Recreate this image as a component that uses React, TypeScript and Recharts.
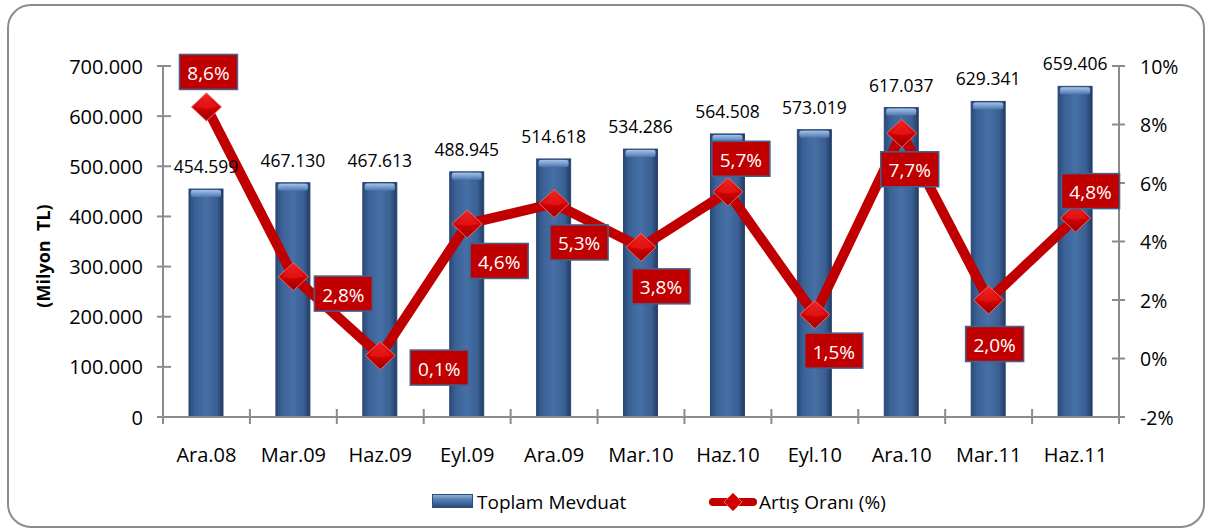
import React from 'react';
import { ComposedChart, Bar, Line, XAxis, YAxis, LabelList } from 'recharts';

const categories = ['Ara.08', 'Mar.09', 'Haz.09', 'Eyl.09', 'Ara.09', 'Mar.10', 'Haz.10', 'Eyl.10', 'Ara.10', 'Mar.11', 'Haz.11'];
const deposits = [454599, 467130, 467613, 488945, 514618, 534286, 564508, 573019, 617037, 629341, 659406];
const growth = [8.6, 2.8, 0.1, 4.6, 5.3, 3.8, 5.7, 1.5, 7.7, 2.0, 4.8];
const leftTicks = [0, 100000, 200000, 300000, 400000, 500000, 600000, 700000];
const rightTicks = [-2, 0, 2, 4, 6, 8, 10];
const seriesNames = ['Toplam Mevduat', 'Artış Oranı (%)'];

// where each percentage box sits relative to its point (dx, dy)
const labelOffsets = [[2, -35], [50, 17], [59, 12], [32, 37], [25, 39], [20, 39], [13, -33], [19, 36], [8, 36], [6, 44], [15, -27]];

const data = categories.map((name, i) => ({ name, deposit: deposits[i], growth: growth[i] }));

const W = 1212;
const H = 531;
const PLOT_LEFT = 163;
const PLOT_RIGHT = 1119;
const PLOT_TOP = 66;
const PLOT_BOTTOM = 417;
const BAND = (PLOT_RIGHT - PLOT_LEFT) / categories.length;
const AXIS = '#8c8c8c';

const thousands = (v: number) => String(v).replace(/\B(?=(\d{3})+(?!\d))/g, '.');
const pct = (v: number) => `${v.toFixed(1).replace('.', ',')}%`;

function LeftTick({ y, payload }: any) {
  return (
    <g>
      <line x1={PLOT_LEFT - 6} x2={PLOT_LEFT + 8} y1={y} y2={y} stroke={AXIS} strokeWidth={2} />
      <text x={PLOT_LEFT - 20} y={y} textAnchor="end" dominantBaseline="central" fontSize={20} fill="#000">
        {thousands(payload.value)}
      </text>
    </g>
  );
}

function RightTick({ y, payload }: any) {
  return (
    <g>
      <line x1={PLOT_RIGHT - 7} x2={PLOT_RIGHT + 6} y1={y} y2={y} stroke={AXIS} strokeWidth={2} />
      <text x={PLOT_RIGHT + 21} y={y} textAnchor="start" dominantBaseline="central" fontSize={19.5} fill="#000">
        {`${payload.value}%`}
      </text>
    </g>
  );
}

function CategoryTick({ x, payload, index }: any) {
  const left = x - BAND / 2;
  return (
    <g>
      <line x1={left} x2={left} y1={PLOT_BOTTOM - 8} y2={PLOT_BOTTOM + 7} stroke={AXIS} strokeWidth={2} />
      {index === categories.length - 1 && (
        <line x1={x + BAND / 2} x2={x + BAND / 2} y1={PLOT_BOTTOM - 8} y2={PLOT_BOTTOM + 7} stroke={AXIS} strokeWidth={2} />
      )}
      <text x={x} y={PLOT_BOTTOM + 37} textAnchor="middle" dominantBaseline="central" fontSize={20} fill="#000">
        {payload.value}
      </text>
    </g>
  );
}

function BarShape({ x, y, width, height }: any) {
  if (!height) return null;
  return (
    <g>
      <rect x={x} y={y} width={width} height={height} fill="url(#barGrad)" stroke="#2a4670" strokeWidth={1} />
      <rect x={x + 2} y={y + 1} width={width - 4} height={7} rx={2} fill="url(#capGrad)" />
    </g>
  );
}

function Diamond({ cx, cy }: any) {
  if (cx == null || cy == null) return null;
  const w = 15;
  const h = 14;
  return (
    <g>
      <polygon
        points={`${cx},${cy - h} ${cx + w},${cy} ${cx},${cy + h} ${cx - w},${cy}`}
        fill="url(#diamondGrad)"
        stroke="#e06a6a"
        strokeWidth={1}
      />
      <polygon points={`${cx},${cy - h + 3} ${cx + w - 4},${cy} ${cx},${cy + 2} ${cx - w + 4},${cy}`} fill="#ee1c1c" opacity={0.6} />
    </g>
  );
}

function PctLabel({ x, y, value, index }: any) {
  const [dx, dy] = labelOffsets[index] || [0, -30];
  const cx = x + dx;
  const cy = y + dy;
  const bw = 58;
  const bh = 35;
  return (
    <g>
      <rect x={cx - bw / 2} y={cy - bh / 2} width={bw} height={bh} fill="#c00000" stroke="#44608f" strokeWidth={1.5} />
      <text x={cx} y={cy + 1} textAnchor="middle" dominantBaseline="central" fontSize={19} fill="#fff">
        {pct(value)}
      </text>
    </g>
  );
}

function YTitle() {
  return (
    <text
      x={43}
      y={256}
      transform="rotate(-90 43 256)"
      textAnchor="middle"
      dominantBaseline="central"
      fontSize={18}
      fontWeight="bold"
      fill="#000"
    >
      {'(Milyon\u00a0\u00a0TL)'}
    </text>
  );
}

function LegendBox() {
  return (
    <div style={{ position: 'absolute', left: 0, top: 0, width: W, height: H, pointerEvents: 'none' }}>
      <div
        style={{
          position: 'absolute',
          left: 432,
          top: 494,
          width: 41,
          height: 14,
          background: 'linear-gradient(to bottom, #8eb0de 0%, #5a80b6 35%, #3e6498 70%, #2c4a76 100%)',
          boxSizing: 'border-box',
          border: '1px solid #2e4c78',
        }}
      />
      <div style={{ position: 'absolute', left: 477, top: 488, fontSize: 19, lineHeight: '28px', color: '#000' }}>
        {seriesNames[0]}
      </div>
      <svg style={{ position: 'absolute', left: 705, top: 488 }} width={56} height={28}>
        <line x1={8} x2={48} y1={14} y2={14} stroke="#c00000" strokeWidth={8} strokeLinecap="round" />
        <polygon points="28,5 37,14 28,23 19,14" fill="#d40000" stroke="#e06a6a" strokeWidth={1} />
      </svg>
      <div style={{ position: 'absolute', left: 759, top: 488, fontSize: 19, lineHeight: '28px', color: '#000' }}>
        {seriesNames[1]}
      </div>
    </div>
  );
}

export default function App() {
  return (
    <div
      style={{
        position: 'absolute',
        left: 0,
        top: 0,
        width: W,
        height: H,
        background: '#fff',
        fontFamily: '"Open Sans", sans-serif',
      }}
    >
      <div
        style={{
          position: 'absolute',
          left: 7,
          top: 4,
          width: 1198,
          height: 524,
          boxSizing: 'border-box',
          border: '2px solid #8c8c8c',
          borderRadius: 24,
        }}
      />
      <div style={{ position: 'absolute', left: 0, top: 0 }}>
        <ComposedChart
          width={W}
          height={H}
          data={data}
          margin={{ top: PLOT_TOP, right: 0, bottom: H - PLOT_BOTTOM - 40, left: 0 }}
        >
          <defs>
            <linearGradient id="barGrad" x1="0" y1="0" x2="1" y2="0">
              <stop offset="0%" stopColor="#2a4a78" />
              <stop offset="18%" stopColor="#3b6297" />
              <stop offset="50%" stopColor="#4670a6" />
              <stop offset="82%" stopColor="#3a5f93" />
              <stop offset="100%" stopColor="#213b60" />
            </linearGradient>
            <linearGradient id="capGrad" x1="0" y1="0" x2="0" y2="1">
              <stop offset="0%" stopColor="#a4c2ea" />
              <stop offset="100%" stopColor="#4d76ad" />
            </linearGradient>
            <linearGradient id="diamondGrad" x1="0" y1="0" x2="0" y2="1">
              <stop offset="0%" stopColor="#f02a2a" />
              <stop offset="55%" stopColor="#d00000" />
              <stop offset="100%" stopColor="#9a0000" />
            </linearGradient>
          </defs>
          <XAxis
            dataKey="name"
            height={40}
            interval={0}
            tickLine={false}
            axisLine={{ stroke: AXIS, strokeWidth: 2 }}
            tick={<CategoryTick />}
          />
          <YAxis
            yAxisId="left"
            orientation="left"
            width={PLOT_LEFT}
            domain={[0, 700000]}
            ticks={leftTicks}
            interval={0}
            tickLine={false}
            axisLine={{ stroke: AXIS, strokeWidth: 2 }}
            tick={<LeftTick />}
            label={<YTitle />}
          />
          <YAxis
            yAxisId="right"
            orientation="right"
            width={W - PLOT_RIGHT}
            domain={[-2, 10]}
            ticks={rightTicks}
            interval={0}
            tickLine={false}
            axisLine={{ stroke: AXIS, strokeWidth: 2 }}
            tick={<RightTick />}
          />
          <Bar
            yAxisId="left"
            dataKey="deposit"
            name={seriesNames[0]}
            barSize={34}
            shape={<BarShape />}
            isAnimationActive={false}
          >
            <LabelList
              dataKey="deposit"
              position="top"
              offset={16}
              fontSize={17.5}
              fill="#000"
              formatter={(v: any) => thousands(Number(v))}
            />
          </Bar>
          <Line
            yAxisId="right"
            dataKey="growth"
            name={seriesNames[1]}
            stroke="#c00000"
            strokeWidth={10}
            strokeLinejoin="miter"
            dot={<Diamond />}
            activeDot={false}
            isAnimationActive={false}
          >
            <LabelList dataKey="growth" content={<PctLabel />} />
          </Line>
        </ComposedChart>
      </div>
      <LegendBox />
    </div>
  );
}
